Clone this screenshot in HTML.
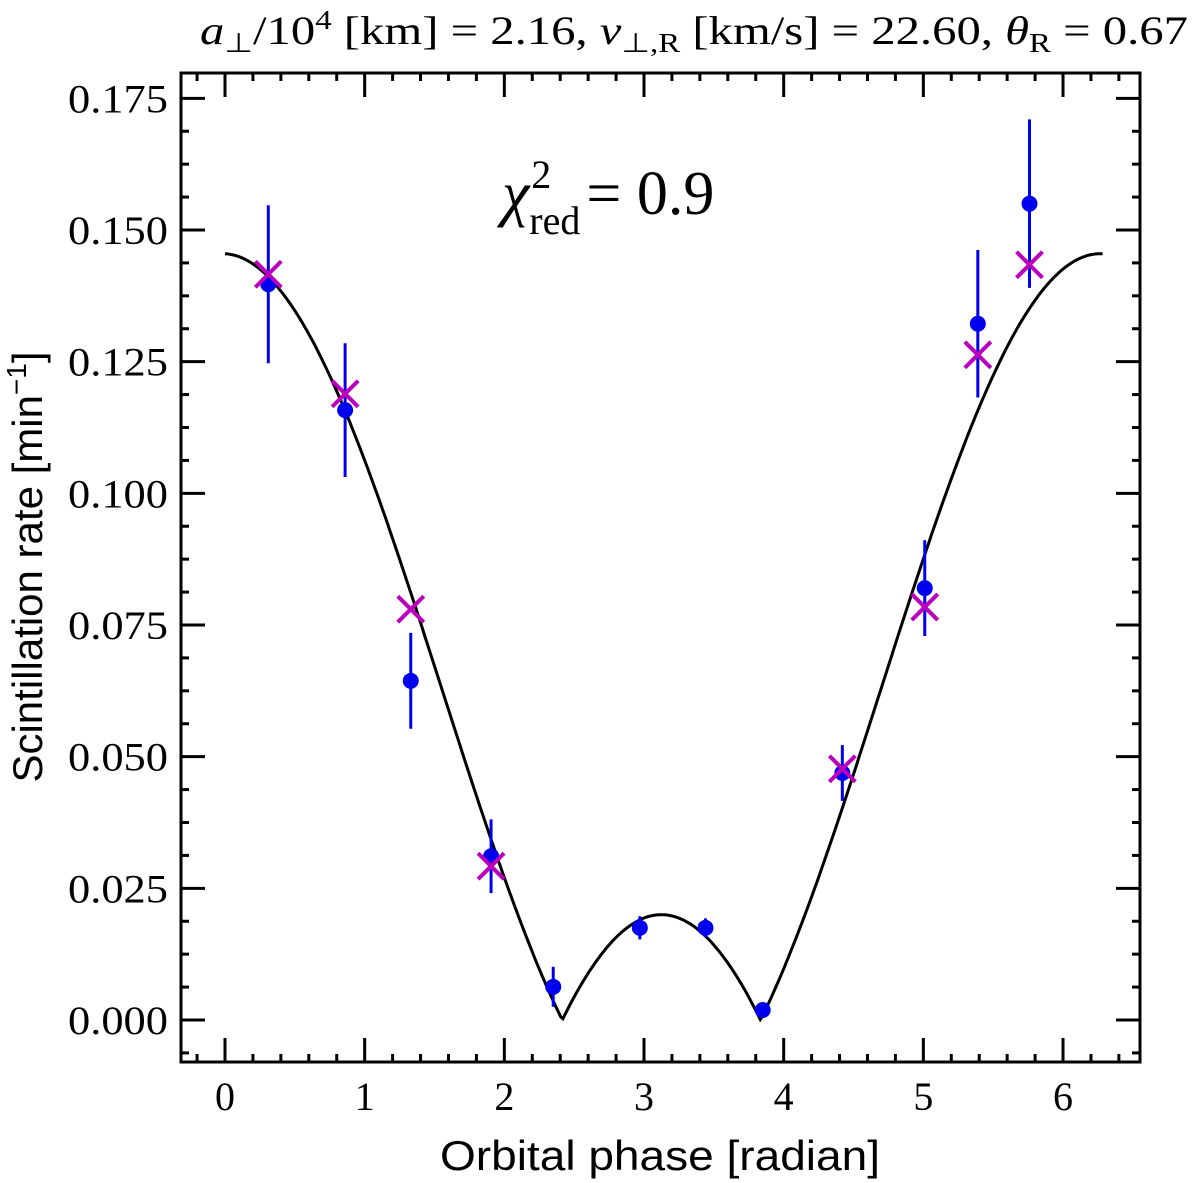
<!DOCTYPE html>
<html><head><meta charset="utf-8"><style>
body{margin:0;background:#fff}
svg{display:block}
text{font-family:"Liberation Serif",serif;fill:#000}
.s{font-family:"Liberation Sans","DejaVu Sans",sans-serif}
</style></head><body>
<svg id="c" width="1200" height="1183" viewBox="0 0 1200 1183">
<text x="200" y="44" font-size="40" textLength="988" lengthAdjust="spacingAndGlyphs"><tspan font-style="italic">a</tspan><tspan font-size="27" dy="8">⊥</tspan><tspan dy="-8">/10</tspan><tspan font-size="27" dy="-15">4</tspan><tspan dy="15"> [km] = 2.16, </tspan><tspan font-style="italic">v</tspan><tspan font-size="27" dy="8">⊥,R</tspan><tspan dy="-8"> [km/s] = 22.60, </tspan><tspan font-style="italic">θ</tspan><tspan font-size="27" dy="8">R</tspan><tspan dy="-8"> = 0.67</tspan></text>
<text x="502" y="214" font-size="62"><tspan font-style="italic">χ</tspan><tspan font-size="40" dx="2" dy="-26">2</tspan><tspan font-size="40" dx="-22" dy="46">red</tspan><tspan dy="-20" dx="6">= 0.9</tspan></text>
<text class="s" x="660" y="1170" font-size="42" text-anchor="middle" textLength="440" lengthAdjust="spacingAndGlyphs">Orbital phase [radian]</text>
<text class="s" x="42" y="567" font-size="42" text-anchor="middle" transform="rotate(-90 42 567)">Scintillation rate [min<tspan font-size="28" dy="-16">−1</tspan><tspan dy="16">]</tspan></text>
<g id="plot"></g>
</svg>
<script>
const xTicks=[0,1,2,3,4,5,6];
const yTicks=[0.000,0.025,0.050,0.075,0.100,0.125,0.150,0.175];
const yTickLabels=["0.000","0.025","0.050","0.075","0.100","0.125","0.150","0.175"];
const obsPhase=[0.31,0.86,1.33,1.905,2.35,2.97,3.44,3.85,4.42,5.01,5.39,5.76];
const obsRate=[0.1397,0.1158,0.0644,0.0311,0.0063,0.0175,0.0175,0.0019,0.0469,0.0820,0.1322,0.1550];
const obsErr=[0.015,0.0127,0.0091,0.007,0.0038,0.0022,0.0018,0.0005,0.0053,0.0091,0.014,0.016];
const modPhase=[0.31,0.86,1.33,1.905,4.42,5.01,5.39,5.76];
const modRate=[0.1416,0.1189,0.0780,0.0292,0.0477,0.0784,0.1263,0.1434];
const curveA=0.06275, curveB=0.08275, curvePhi0=-0.017;
const X=v=>225+139.67*v, Y=v=>1020-5266.7*v;
const NS="http://www.w3.org/2000/svg", g=document.getElementById('plot');
function mk(t,a){const e=document.createElementNS(NS,t);for(const k in a)e.setAttribute(k,a[k]);g.appendChild(e);return e;}
let fr=mk('rect',{x:181,y:73,width:959,height:989,fill:'none',stroke:'#000','stroke-width':3});


for(let v=-0.2;v<=6.55;v+=0.2){const x=X(v);if(x<182||x>1139)continue;const major=Math.abs(v-Math.round(v))<1e-6;const L=major?24:8;
mk('line',{x1:x,y1:1062,x2:x,y2:1062-L,stroke:'#000','stroke-width':3});mk('line',{x1:x,y1:73,x2:x,y2:73+L,stroke:'#000','stroke-width':3});}
xTicks.forEach(v=>{const t=mk('text',{x:X(v),y:1110,'font-size':40,'text-anchor':'middle'});t.textContent=v;

});
for(let v=-0.00625;v<=0.18;v+=0.00625){const y=Y(v);if(y<74||y>1061)continue;const major=Math.abs(v/0.025-Math.round(v/0.025))<1e-6;const L=major?24:8;
mk('line',{x1:181,y1:y,x2:181+L,y2:y,stroke:'#000','stroke-width':3});mk('line',{x1:1140,y1:y,x2:1140-L,y2:y,stroke:'#000','stroke-width':3});}
yTicks.forEach((v,i)=>{const t=mk('text',{x:168,y:Y(v)+14,'font-size':40,'text-anchor':'end',textLength:100,lengthAdjust:'spacingAndGlyphs'});t.textContent=yTickLabels[i];

});
let d='';for(let i=0;i<=400;i++){const p=2*Math.PI*i/400;const r=Math.abs(curveA+curveB*Math.cos(p-curvePhi0));d+=(i?'L':'M')+X(p).toFixed(1)+' '+Y(r).toFixed(1);}
const cv=mk('path',{d:d,fill:'none',stroke:'#000','stroke-width':3});


obsPhase.forEach((p,i)=>{const x=X(p);
const l=mk('line',{x1:x,y1:Y(obsRate[i]+obsErr[i]),x2:x,y2:Y(obsRate[i]-obsErr[i]),stroke:'#0000ee','stroke-width':3});


const c=mk('circle',{cx:x,cy:Y(obsRate[i]),r:8,fill:'#0000ee'});

});
modPhase.forEach((p,i)=>{const x=X(p),y=Y(modRate[i]),s=13;
const m=mk('path',{d:`M${x-s} ${y-s}L${x+s} ${y+s}M${x-s} ${y+s}L${x+s} ${y-s}`,stroke:'#bb00bb','stroke-width':4,fill:'none'});

});
</script>
</body></html>
